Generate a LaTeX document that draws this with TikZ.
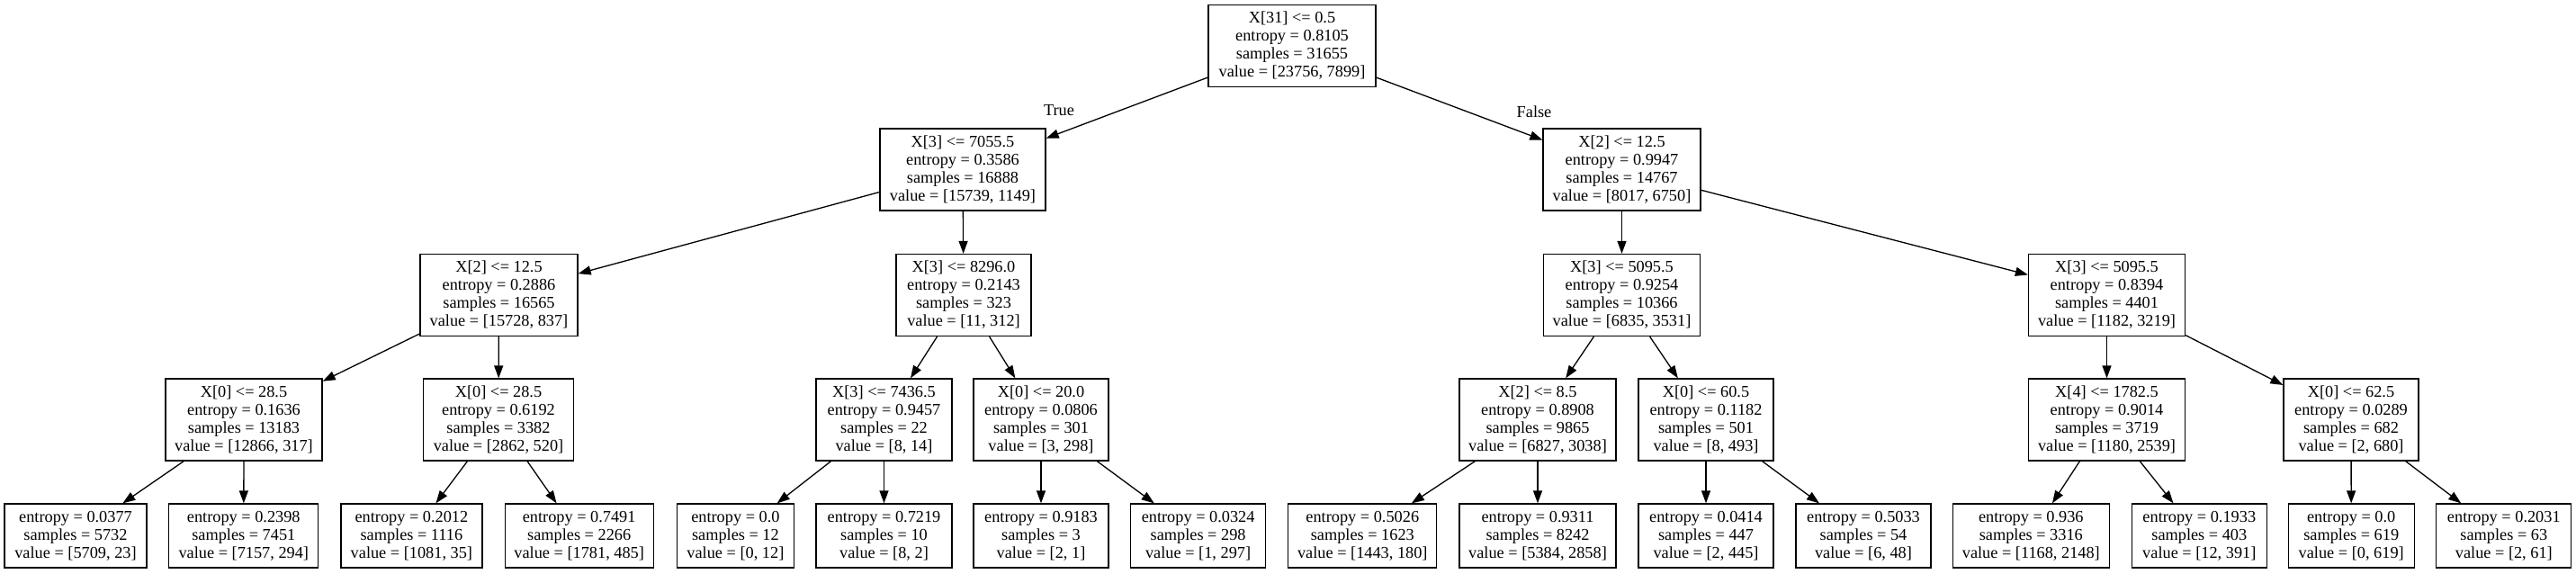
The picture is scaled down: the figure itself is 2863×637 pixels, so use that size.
\documentclass[tikz,border=0pt]{standalone}
\usepackage{fontspec}
\setmainfont{Liberation Serif}
\usetikzlibrary{arrows.meta}
\tikzset{
  box/.style={draw=black, line width=1.3pt, fill=white, align=center, inner xsep=0pt, inner ysep=0pt,
    font=\fontsize{18.3pt}{20pt}\selectfont},
  inner4/.style={box, minimum height=91pt},
  leaf/.style={box, minimum height=71pt},
  edge/.style={line width=1.3pt, -{Triangle[length=14pt,width=10pt]}},
  elab/.style={font=\fontsize{18.3pt}{20pt}\selectfont, inner sep=0pt}
}
\begin{document}
\begin{tikzpicture}[x=1pt,y=-1pt]
\useasboundingbox (0,0) rectangle (2863,637);
% root
\node[inner4, minimum width=186pt] (n0) at (1436,51) {X[31] <= 0.5\\entropy = 0.8105\\samples = 31655\\value = [23756, 7899]};
% level 1
\node[inner4, minimum width=184pt] (n1) at (1070,188.5) {X[3] <= 7055.5\\entropy = 0.3586\\samples = 16888\\value = [15739, 1149]};
\node[inner4, minimum width=175pt] (n2) at (1802.5,188.5) {X[2] <= 12.5\\entropy = 0.9947\\samples = 14767\\value = [8017, 6750]};
% level 2
\node[inner4, minimum width=175pt] (n3) at (554.5,328) {X[2] <= 12.5\\entropy = 0.2886\\samples = 16565\\value = [15728, 837]};
\node[inner4, minimum width=150pt] (n4) at (1071,328) {X[3] <= 8296.0\\entropy = 0.2143\\samples = 323\\value = [11, 312]};
\node[inner4, minimum width=174pt] (n5) at (1802.5,328) {X[3] <= 5095.5\\entropy = 0.9254\\samples = 10366\\value = [6835, 3531]};
\node[inner4, minimum width=174pt] (n6) at (2341.5,328) {X[3] <= 5095.5\\entropy = 0.8394\\samples = 4401\\value = [1182, 3219]};
% level 3
\node[inner4, minimum width=174pt] (n7) at (271,466.5) {X[0] <= 28.5\\entropy = 0.1636\\samples = 13183\\value = [12866, 317]};
\node[inner4, minimum width=167pt] (n8) at (554,466.5) {X[0] <= 28.5\\entropy = 0.6192\\samples = 3382\\value = [2862, 520]};
\node[inner4, minimum width=151pt] (n9) at (982.5,466.5) {X[3] <= 7436.5\\entropy = 0.9457\\samples = 22\\value = [8, 14]};
\node[inner4, minimum width=150pt] (n10) at (1157,466.5) {X[0] <= 20.0\\entropy = 0.0806\\samples = 301\\value = [3, 298]};
\node[inner4, minimum width=174pt] (n11) at (1709,466.5) {X[2] <= 8.5\\entropy = 0.8908\\samples = 9865\\value = [6827, 3038]};
\node[inner4, minimum width=150pt] (n12) at (1896,466.5) {X[0] <= 60.5\\entropy = 0.1182\\samples = 501\\value = [8, 493]};
\node[inner4, minimum width=174pt] (n13) at (2341.5,466.5) {X[4] <= 1782.5\\entropy = 0.9014\\samples = 3719\\value = [1180, 2539]};
\node[inner4, minimum width=150pt] (n14) at (2613,466.5) {X[0] <= 62.5\\entropy = 0.0289\\samples = 682\\value = [2, 680]};
% leaves
\node[leaf, minimum width=158pt] (l1) at (84,595.5) {entropy = 0.0377\\samples = 5732\\value = [5709, 23]};
\node[leaf, minimum width=166pt] (l2) at (270.8,595.5) {entropy = 0.2398\\samples = 7451\\value = [7157, 294]};
\node[leaf, minimum width=157pt] (l3) at (457.4,595.5) {entropy = 0.2012\\samples = 1116\\value = [1081, 35]};
\node[leaf, minimum width=165pt] (l4) at (643.7,595.5) {entropy = 0.7491\\samples = 2266\\value = [1781, 485]};
\node[leaf, minimum width=130pt] (l5) at (817.4,595.5) {entropy = 0.0\\samples = 12\\value = [0, 12]};
\node[leaf, minimum width=151pt] (l6) at (982.5,595.5) {entropy = 0.7219\\samples = 10\\value = [8, 2]};
\node[leaf, minimum width=150pt] (l7) at (1157,595.5) {entropy = 0.9183\\samples = 3\\value = [2, 1]};
\node[leaf, minimum width=150pt] (l8) at (1331.6,595.5) {entropy = 0.0324\\samples = 298\\value = [1, 297]};
\node[leaf, minimum width=165pt] (l9) at (1514.3,595.5) {entropy = 0.5026\\samples = 1623\\value = [1443, 180]};
\node[leaf, minimum width=174pt] (l10) at (1709,595.5) {entropy = 0.9311\\samples = 8242\\value = [5384, 2858]};
\node[leaf, minimum width=150pt] (l11) at (1896,595.5) {entropy = 0.0414\\samples = 447\\value = [2, 445]};
\node[leaf, minimum width=150pt] (l12) at (2071,595.5) {entropy = 0.5033\\samples = 54\\value = [6, 48]};
\node[leaf, minimum width=174pt] (l13) at (2257.3,595.5) {entropy = 0.936\\samples = 3316\\value = [1168, 2148]};
\node[leaf, minimum width=150pt] (l14) at (2444.3,595.5) {entropy = 0.1933\\samples = 403\\value = [12, 391]};
\node[leaf, minimum width=140pt] (l15) at (2613.2,595.5) {entropy = 0.0\\samples = 619\\value = [0, 619]};
\node[leaf, minimum width=150pt] (l16) at (2782.8,595.5) {entropy = 0.2031\\samples = 63\\value = [2, 61]};
% edge labels
\node[elab] (tlab) at (1177,123) {True};
\node[elab] (flab) at (1705,124) {False};
% edges
\draw[edge] (n0) -- (n1);
\draw[edge] (n0) -- (n2);
\draw[edge] (n1) -- (n3);
\draw[edge] (n1) -- (n4);
\draw[edge] (n2) -- (n5);
\draw[edge] (n2) -- (n6);
\draw[edge] (n3) -- (n7);
\draw[edge] (n3) -- (n8);
\draw[edge] (n4) -- (n9);
\draw[edge] (n4) -- (n10);
\draw[edge] (n5) -- (n11);
\draw[edge] (n5) -- (n12);
\draw[edge] (n6) -- (n13);
\draw[edge] (n6) -- (n14);
\draw[edge] (n7) -- (l1);
\draw[edge] (n7) -- (l2);
\draw[edge] (n8) -- (l3);
\draw[edge] (n8) -- (l4);
\draw[edge] (n9) -- (l5);
\draw[edge] (n9) -- (l6);
\draw[edge] (n10) -- (l7);
\draw[edge] (n10) -- (l8);
\draw[edge] (n11) -- (l9);
\draw[edge] (n11) -- (l10);
\draw[edge] (n12) -- (l11);
\draw[edge] (n12) -- (l12);
\draw[edge] (n13) -- (l13);
\draw[edge] (n13) -- (l14);
\draw[edge] (n14) -- (l15);
\draw[edge] (n14) -- (l16);
\end{tikzpicture}
\end{document}
